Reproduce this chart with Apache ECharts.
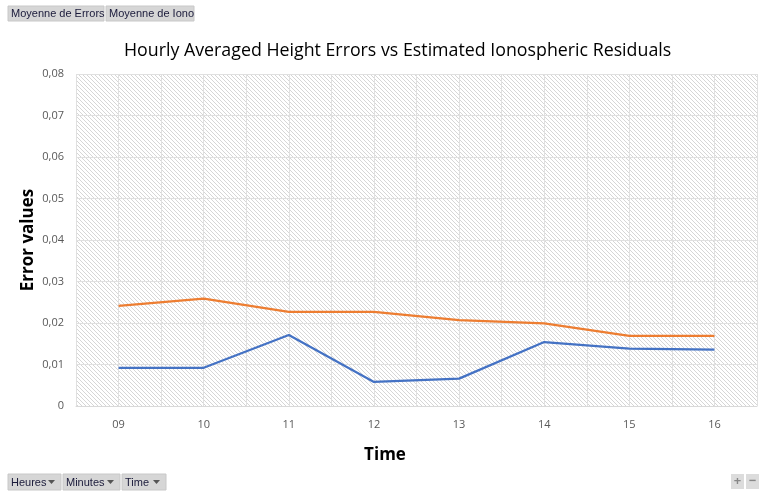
<!DOCTYPE html>
<html><head><meta charset="utf-8">
<script src="https://cdn.jsdelivr.net/npm/echarts@6/dist/echarts.min.js"></script>
<style>html,body{margin:0;padding:0;background:#fff}#c{width:771px;height:495px}</style>
</head><body><div id="c"></div>
<script>
const categories = ['09','10','11','12','13','14','15','16'];
const errors = [0.0092, 0.0092, 0.0171, 0.0058, 0.0066, 0.0154, 0.0138, 0.0136];
const iono = [0.0241, 0.0259, 0.0227, 0.0227, 0.0207, 0.0199, 0.0169, 0.0169];
const yTicks = [0, 0.01, 0.02, 0.03, 0.04, 0.05, 0.06, 0.07, 0.08];

const pc = document.createElement('canvas');
pc.width = 4; pc.height = 4;
const g = pc.getContext('2d');
g.fillStyle = '#ffffff'; g.fillRect(0,0,4,4);
g.fillStyle = '#d6d6d6';
for (let i = 0; i < 4; i++) g.fillRect(i, i, 1, 1);

const chart = echarts.init(document.getElementById('c'));
const font = '"Open Sans", "Liberation Sans", sans-serif';
const bfont = '"Liberation Sans", "DejaVu Sans", sans-serif';
function btn(x, y, w, h, text, arrow) {
  const children = [
    {type:'rect', shape:{x:x, y:y, width:w, height:h}, style:{fill:'#d6d6d6', stroke:'#c8c8c8', lineWidth:1}},
    {type:'text', x:x+3, y:y+h/2+0.5, style:{text:text, fill:'#1a1a3a', font:'11px ' + bfont, verticalAlign:'middle'}}
  ];
  if (arrow) {
    const ax = x + w - 13, ay = y + h/2 - 2;
    children.push({type:'polygon', shape:{points:[[ax,ay],[ax+7,ay],[ax+3.5,ay+4]]}, style:{fill:'#555'}});
  }
  return {type:'group', children:children};
}
chart.setOption({
  animation:false,
  title:{text:'Hourly Averaged Height Errors vs Estimated Ionospheric Residuals', left:119, top:37,
    textStyle:{fontFamily:font, fontSize:17.8, fontWeight:'normal', color:'#000'}},
  grid:{left:76, right:14, top:74, bottom:89, show:true, backgroundColor:{image:pc, repeat:'repeat'}, borderWidth:0},
  xAxis:[{type:'category', data:categories, boundaryGap:true,
      axisLine:{lineStyle:{color:'#d9d9d9'}}, axisTick:{show:false},
      axisLabel:{color:'#595959', fontSize:11, fontFamily:font, margin:13},
      splitLine:{show:false}},
    {type:'value', min:0, max:16, interval:1, show:true, position:'bottom',
      axisLine:{show:false}, axisTick:{show:false}, axisLabel:{show:false},
      splitLine:{show:true, lineStyle:{color:'#e0e0e0', width:1}}}],
  yAxis:{type:'value', min:0, max:0.08, interval:0.01,
    name:'Error values', nameLocation:'middle', nameGap:39, nameMoveOverlap:false,
    nameTextStyle:{fontFamily:font, fontSize:17, fontWeight:'bold', color:'#000'},
    axisLine:{show:false}, axisTick:{show:false},
    axisLabel:{color:'#595959', fontSize:11, fontFamily:font, margin:12,
      formatter:v => { const i = yTicks.findIndex(t => Math.abs(t-v) < 1e-9); const t = i >= 0 ? yTicks[i] : v; return t === 0 ? '0' : t.toFixed(2).replace('.', ','); }},
    splitLine:{lineStyle:{color:'#e0e0e0', width:1}}},
  series:[
    {name:'Moyenne de Errors', type:'line', data:errors, symbol:'none', lineStyle:{color:'#4472C4', width:2.25}, itemStyle:{color:'#4472C4'}},
    {name:'Moyenne de Iono', type:'line', data:iono, symbol:'none', lineStyle:{color:'#ED7D31', width:2.25}, itemStyle:{color:'#ED7D31'}}
  ],
  graphic:[
    {type:'text', x:385, y:455, style:{text:'Time', fill:'#000', font:'bold 17px ' + font, align:'center', verticalAlign:'middle'}},
    btn(8, 6, 96, 15, 'Moyenne de Errors', false),
    btn(106, 6, 88, 15, 'Moyenne de Iono', false),
    btn(8, 474, 53, 16, 'Heures', true),
    btn(63, 474, 57, 16, 'Minutes', true),
    btn(122, 474, 44, 16, 'Time', true),
    {type:'rect', shape:{x:731, y:474, width:13, height:15}, style:{fill:'#dcdcdc'}},
    {type:'text', x:737.5, y:481.5, style:{text:'+', fill:'#888', font:'bold 13px ' + font, align:'center', verticalAlign:'middle'}},
    {type:'rect', shape:{x:746, y:474, width:13, height:15}, style:{fill:'#dcdcdc'}},
    {type:'text', x:752.5, y:481, style:{text:'−', fill:'#888', font:'bold 13px ' + font, align:'center', verticalAlign:'middle'}}
  ]
});
</script></body></html>
